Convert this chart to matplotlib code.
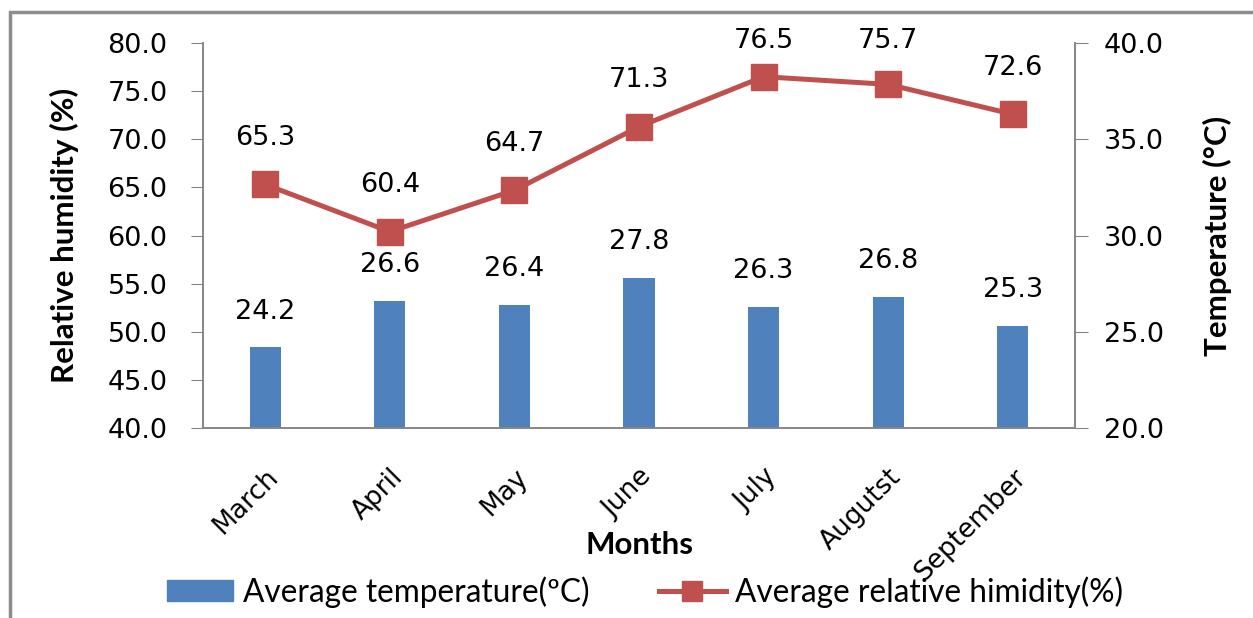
import numpy as np
import matplotlib.pyplot as plt
import matplotlib
from matplotlib.lines import Line2D
from matplotlib.patches import Patch, Rectangle

matplotlib.rcParams['font.family'] = 'DejaVu Sans'

months = ['March', 'April', 'May', 'June', 'July', 'Augutst', 'September']
temperature = [24.2, 26.6, 26.4, 27.8, 26.3, 26.8, 25.3]
humidity = [65.3, 60.4, 64.7, 71.3, 76.5, 75.7, 72.6]

blue = '#4F81BD'
red = '#C0504D'
grey = '#868686'
num_size = 19.5

fig = plt.figure(figsize=(12.53, 6.18), dpi=100)
ax = fig.add_axes([203/1253, 1 - 428/618, (1075 - 203)/1253, (428 - 43)/618])
ax2 = ax.twinx()

x = np.arange(len(months))

# temperature bars on the secondary axis
ax2.bar(x, temperature, width=0.25, color=blue, zorder=1)
ax2.set_ylim(20, 40)
ticks2 = np.arange(20, 40.1, 5)
ax2.set_yticks(ticks2)
ax2.set_yticklabels(['%.1f' % v for v in ticks2], fontsize=num_size)
for xi, t in zip(x, temperature):
    ax2.text(xi, t + 1.85, '%.1f' % t, ha='center', va='center',
             fontsize=num_size)

# humidity line on the primary axis, drawn above the bars
ax.set_zorder(ax2.get_zorder() + 1)
ax.patch.set_visible(False)
ax.plot(x, humidity, color=red, lw=3.6, marker='s', markersize=19,
        solid_joinstyle='miter')
ax.set_ylim(40, 80)
ticks1 = np.arange(40, 80.1, 5)
ax.set_yticks(ticks1)
ax.set_yticklabels(['%.1f' % v for v in ticks1], fontsize=num_size)
for xi, h in zip(x, humidity):
    # labels near the top are kept inside the plot area
    ax.text(xi, min(h + 4.85, 80.2), '%.1f' % h, ha='center', va='center',
            fontsize=num_size)

ax.set_xlim(-0.5, len(months) - 0.5)
ax.set_xticks(x)
ax.set_xticklabels(months, rotation=45, ha='right', rotation_mode='anchor',
                   fontsize=19)
ax.tick_params(axis='x', length=0, pad=26)
ax.tick_params(axis='y', direction='out', length=8.5, color=grey, pad=17)
ax2.tick_params(axis='y', direction='out', length=9, color=grey, pad=12)

for a in (ax, ax2):
    a.spines['top'].set_visible(False)
    for s in ('left', 'right', 'bottom'):
        a.spines[s].set_color(grey)
        a.spines[s].set_linewidth(1.4)
ax.spines['right'].set_visible(False)
ax2.spines['left'].set_visible(False)
ax2.spines['bottom'].set_visible(False)

title_font = {'family': 'Lato', 'size': 22.5, 'weight': 'bold'}
ax.set_ylabel('Relative humidity (%)', fontdict=title_font)
ax.yaxis.set_label_coords((64 - 203)/872, 0.5)
ax.yaxis.label.set_va('center')
ax2.set_ylabel('Temperature (\u00b0C)', fontdict=title_font)
ax2.yaxis.set_label_coords((1217 - 203)/872, 0.5)
ax2.yaxis.label.set_va('center')
fig.text(640/1253, 1 - 545/618, 'Months', ha='center', va='center',
         fontdict=title_font)

handles = [Patch(color=blue),
           Line2D([], [], color=red, lw=3.6, marker='s', markersize=15)]
fig.legend(handles, ['Average temperature(\u00baC)', 'Average relative himidity(%)'],
           loc='center', bbox_to_anchor=(645/1253, 1 - 592/618), ncol=2,
           frameon=False, handlelength=2.1, handleheight=0.65,
           handletextpad=0.3, columnspacing=2.2,
           prop={'family': 'Lato', 'size': 22.8})

# grey frame around the chart
fig.patches.append(Rectangle((10/1253, -0.05), 1.1, 1 - 12/618 + 0.05,
                             transform=fig.transFigure, fill=False,
                             edgecolor='#8C8C8C', lw=2.5))

plt.savefig('out.png', dpi=100)
